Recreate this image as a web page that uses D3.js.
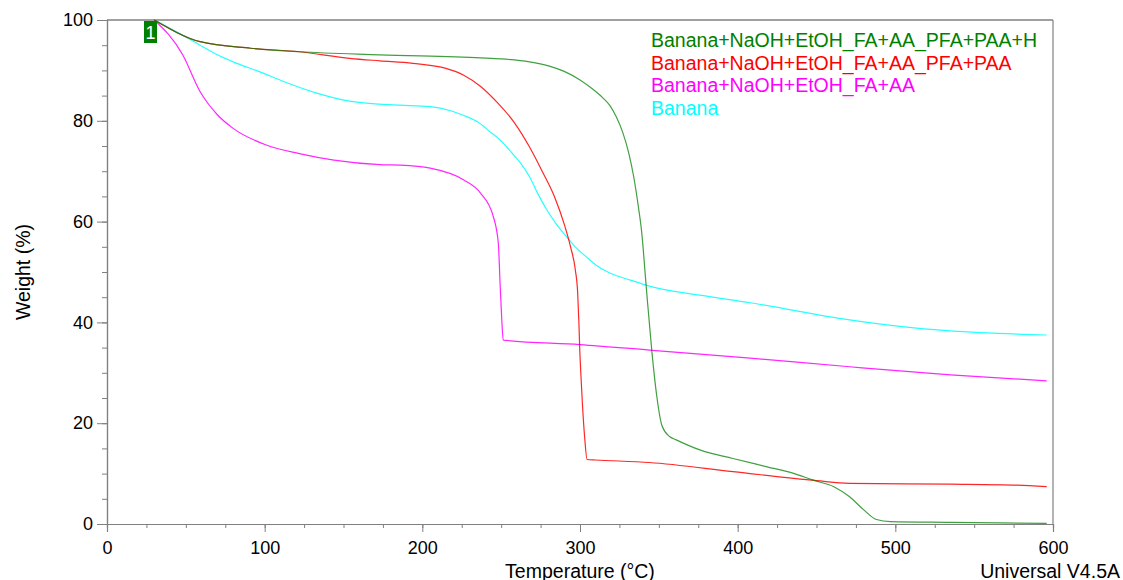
<!DOCTYPE html>
<html>
<head>
<meta charset="utf-8">
<script src="https://cdn.jsdelivr.net/npm/d3@7"></script>
<style>
  body { margin: 0; background: #fff; }
  text { font-family: "Liberation Sans", Arial, sans-serif; }
</style>
</head>
<body>
<div id="chart"></div>
<script>
// series data: temperature (°C) and weight (%)
const greenT = [30, 59, 91, 122, 173, 237, 250, 268, 280, 290, 300, 308, 314, 319, 323, 327, 331, 334, 337, 339, 342, 345.5, 348.6, 352, 357, 361, 376, 397, 418, 435, 448, 461, 471, 480, 488, 497, 535, 596]
const greenW = [100, 95.7, 94.4, 93.7, 93.1, 92.5, 92.3, 91.7, 90.9, 89.8, 88.1, 86.3, 84.7, 83.0, 80.8, 77.8, 73.5, 69.0, 63.0, 58.3, 47.1, 34.5, 25.6, 19.5, 17.3, 16.7, 14.7, 13.0, 11.4, 10.1, 8.7, 7.4, 5.4, 2.8, 0.9, 0.46, 0.33, 0.13]

const redT = [30, 59, 91, 122, 154, 173, 194, 215, 226, 237, 247, 258, 268, 276, 284, 290, 294, 297, 298.5, 299.3, 299.8, 300.5, 301.5, 303, 304.5, 310, 344, 397, 450, 471, 535, 577, 596]
const redW = [100, 95.7, 94.4, 93.7, 92.4, 91.9, 91.4, 90.4, 89.1, 86.8, 83.8, 79.8, 74.8, 70.0, 64.8, 59.5, 55.0, 50.5, 46.0, 40.0, 35.0, 30.0, 24.0, 17.0, 12.8, 12.7, 12.2, 10.4, 8.6, 8.07, 7.9, 7.7, 7.4]

const magT = [30, 48, 59, 70, 80, 101, 122, 144, 173, 186, 205, 226, 237, 245, 248.2, 249.3, 250.3, 251.3, 300, 344, 408, 471, 535, 596]
const magW = [100, 93.1, 85.8, 81.2, 78.5, 75.2, 73.5, 72.2, 71.3, 71.2, 70.6, 68.3, 65.6, 61.0, 55.7, 47.8, 41.1, 36.5, 35.6, 34.5, 32.9, 31.2, 29.6, 28.4]

const cyanT = [30, 48, 59, 70, 80, 97, 112, 133, 154, 173, 186, 205, 218, 226, 235, 243, 250, 258, 263, 268, 273, 279, 285, 291.5, 297, 304, 310, 317, 322, 332, 344, 376, 408, 471, 503, 535, 596]
const cyanW = [100, 97.0, 95.0, 93.1, 91.7, 89.7, 87.8, 85.5, 83.9, 83.3, 83.1, 82.8, 82.0, 81.1, 79.8, 77.8, 76.0, 73.2, 71.3, 68.9, 65.7, 62.3, 59.5, 57.0, 55.0, 53.0, 51.4, 50.1, 49.4, 48.4, 47.2, 45.4, 43.9, 40.5, 39.2, 38.3, 37.5]

const seriesNames = ['Banana+NaOH+EtOH_FA+AA_PFA+PAA+H', 'Banana+NaOH+EtOH_FA+AA_PFA+PAA', 'Banana+NaOH+EtOH_FA+AA', 'Banana']
const seriesColors = ['#008000', '#ff0000', '#ff00ff', '#00ffff']

const xTicks = [0, 100, 200, 300, 400, 500, 600]
const yTicks = [0, 20, 40, 60, 80, 100]

const width = 1123, height = 580
const plotLeft = 107, plotRight = 1053, plotTop = 20, plotBottom = 524
const axisColor = '#808080'

const svg = d3.select('#chart').append('svg')
  .attr('width', width)
  .attr('height', height)

const x = d3.scaleLinear().domain([0, 600]).range([plotLeft, plotRight])
const y = d3.scaleLinear().domain([0, 100]).range([plotBottom, plotTop])

// frame: top and right edges
svg.append('line').attr('x1', plotLeft).attr('x2', plotRight).attr('y1', plotTop).attr('y2', plotTop)
  .attr('stroke', axisColor).attr('stroke-width', 1.5)
svg.append('line').attr('x1', plotRight).attr('x2', plotRight).attr('y1', plotTop).attr('y2', plotBottom)
  .attr('stroke', axisColor).attr('stroke-width', 1.2)

// minor ticks
const xAxisMinor = d3.axisBottom(x).tickValues(d3.range(0, 601, 25)).tickSize(4).tickFormat('')
const yAxisMinor = d3.axisLeft(y).tickValues(d3.range(0, 101, 5)).tickSize(5).tickFormat('')
svg.append('g').attr('transform', `translate(0,${plotBottom})`).call(xAxisMinor)
svg.append('g').attr('transform', `translate(${plotLeft},0)`).call(yAxisMinor)

// major ticks + labels
const gx = svg.append('g').attr('transform', `translate(0,${plotBottom})`)
  .call(d3.axisBottom(x).tickValues(xTicks).tickSize(8).tickPadding(6))
const gy = svg.append('g').attr('transform', `translate(${plotLeft},0)`)
  .call(d3.axisLeft(y).tickValues(yTicks).tickSize(10).tickPadding(4))

svg.selectAll('.domain').attr('stroke', axisColor).attr('stroke-width', 1.2)
svg.selectAll('.tick line').attr('stroke', axisColor)
svg.selectAll('.tick text').attr('fill', '#000').style('font-size', '18px')
  .style('font-family', '"Liberation Sans", Arial, sans-serif')
gx.selectAll('.tick text').attr('dy', '0.9em')

// curves
const allT = [greenT, redT, magT, cyanT]
const allW = [greenW, redW, magW, cyanW]
const line = d3.line().x(d => x(d[0])).y(d => y(d[1])).curve(d3.curveMonotoneX)

// draw back to front: banana first, green last
for (let i = 3; i >= 0; i--) {
  const pts = allT[i].map((t, j) => [t, allW[i][j]])
  svg.append('path')
    .datum(pts)
    .attr('fill', 'none')
    .attr('stroke', seriesColors[i])
    .attr('stroke-width', 1.2)
    .attr('stroke-opacity', i == 0 ? 0.75 : 0.85)
    .attr('d', line)
}

// marker "1"
svg.append('rect').attr('x', 144).attr('y', 21).attr('width', 13).attr('height', 22)
  .attr('fill', '#008000')
svg.append('text').attr('x', 150.5).attr('y', 39).attr('text-anchor', 'middle')
  .attr('fill', '#fff').style('font-size', '18px').text('1')

// legend
svg.selectAll('text.legend')
  .data(seriesNames)
  .enter()
  .append('text')
  .attr('class', 'legend')
  .attr('x', 651)
  .attr('y', (d, i) => 47 + i * 22.5)
  .attr('fill', (d, i) => seriesColors[i])
  .style('font-size', '19.5px')
  .text(d => d)

// axis titles
svg.append('text').attr('x', 580).attr('y', 578).attr('text-anchor', 'middle')
  .style('font-size', '19.5px').attr('fill', '#000').text('Temperature (°C)')
svg.append('text').attr('x', 1120).attr('y', 578).attr('text-anchor', 'end')
  .style('font-size', '19.5px').attr('fill', '#000').text('Universal V4.5A')
svg.append('text')
  .attr('transform', 'translate(30,272) rotate(-90)')
  .attr('text-anchor', 'middle')
  .style('font-size', '19.5px').attr('fill', '#000').text('Weight (%)')
</script>
</body>
</html>
